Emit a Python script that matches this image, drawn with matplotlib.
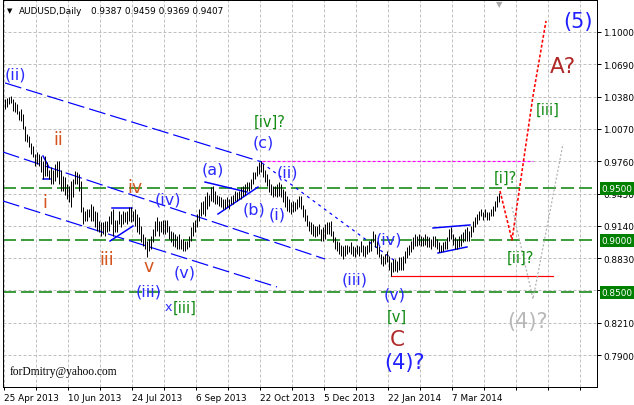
import matplotlib
matplotlib.use('Agg')
import matplotlib.pyplot as plt
import numpy as np

# ---------------- data ----------------
highs = [
    1.036, 1.037, 1.038, 1.039, 1.036, 1.033, 1.031, 1.024, 1.026, 1.021,
    1.010, 1.002, 1.000, 0.993, 0.991, 0.983, 0.985, 0.983, 0.981, 0.976,
    0.981, 0.975, 0.968, 0.970, 0.968, 0.973, 0.976, 0.976, 0.968, 0.962,
    0.961, 0.954, 0.952, 0.957, 0.959, 0.967, 0.966, 0.964, 0.957, 0.932,
    0.928, 0.930, 0.930, 0.935, 0.933, 0.928, 0.927, 0.919, 0.918, 0.918,
    0.919, 0.919, 0.923, 0.928, 0.930, 0.920, 0.920, 0.928, 0.925, 0.928,
    0.927, 0.928, 0.932, 0.932, 0.928, 0.930, 0.925, 0.922, 0.914, 0.906,
    0.903, 0.899, 0.901, 0.904, 0.911, 0.919, 0.922, 0.919, 0.919, 0.920,
    0.920, 0.920, 0.914, 0.909, 0.908, 0.906, 0.904, 0.906, 0.901, 0.901,
    0.899, 0.899, 0.904, 0.913, 0.918, 0.920, 0.925, 0.930, 0.937, 0.938,
    0.943, 0.946, 0.944, 0.951, 0.952, 0.947, 0.944, 0.943, 0.942, 0.940,
    0.940, 0.942, 0.940, 0.943, 0.944, 0.947, 0.946, 0.947, 0.951, 0.952,
    0.954, 0.956, 0.956, 0.959, 0.966, 0.966, 0.971, 0.975, 0.976, 0.973,
    0.968, 0.964, 0.959, 0.954, 0.952, 0.952, 0.954, 0.956, 0.954, 0.949,
    0.947, 0.943, 0.940, 0.937, 0.938, 0.937, 0.940, 0.943, 0.943, 0.934,
    0.930, 0.924, 0.919, 0.918, 0.916, 0.914, 0.914, 0.916, 0.911, 0.913,
    0.916, 0.918, 0.918, 0.919, 0.909, 0.903, 0.899, 0.898, 0.896, 0.895,
    0.896, 0.896, 0.895, 0.898, 0.895, 0.894, 0.896, 0.895, 0.899, 0.896,
    0.895, 0.896, 0.899, 0.901, 0.909, 0.906, 0.899, 0.895, 0.887, 0.885,
    0.887, 0.890, 0.885, 0.879, 0.882, 0.882, 0.880, 0.884, 0.884, 0.885,
    0.890, 0.894, 0.896, 0.899, 0.903, 0.906, 0.904, 0.906, 0.904, 0.903,
    0.906, 0.904, 0.903, 0.901, 0.904, 0.904, 0.901, 0.898, 0.896, 0.898,
    0.899, 0.903, 0.911, 0.913, 0.906, 0.903, 0.901, 0.904, 0.906, 0.908,
    0.911, 0.913, 0.909, 0.914, 0.919, 0.922, 0.925, 0.928, 0.930, 0.927,
    0.930, 0.927, 0.927, 0.930, 0.933, 0.938, 0.943, 0.9459,
]
lows = [
    1.026, 1.028, 1.031, 1.032, 1.024, 1.023, 1.021, 1.016, 1.015, 1.007,
    0.995, 0.994, 0.990, 0.983, 0.980, 0.971, 0.973, 0.971, 0.966, 0.959,
    0.962, 0.962, 0.959, 0.954, 0.954, 0.957, 0.961, 0.954, 0.947, 0.947,
    0.944, 0.940, 0.937, 0.932, 0.942, 0.954, 0.954, 0.947, 0.927, 0.916,
    0.919, 0.919, 0.922, 0.919, 0.919, 0.913, 0.909, 0.908, 0.904, 0.906,
    0.904, 0.908, 0.909, 0.916, 0.904, 0.908, 0.908, 0.916, 0.913, 0.916,
    0.918, 0.916, 0.919, 0.918, 0.919, 0.914, 0.908, 0.906, 0.898, 0.895,
    0.892, 0.884, 0.890, 0.892, 0.898, 0.904, 0.909, 0.904, 0.908, 0.906,
    0.906, 0.908, 0.901, 0.898, 0.895, 0.894, 0.892, 0.892, 0.892, 0.890,
    0.890, 0.892, 0.894, 0.899, 0.904, 0.908, 0.913, 0.919, 0.923, 0.925,
    0.923, 0.930, 0.933, 0.938, 0.937, 0.935, 0.935, 0.933, 0.932, 0.930,
    0.930, 0.932, 0.930, 0.935, 0.935, 0.938, 0.938, 0.940, 0.940, 0.943,
    0.944, 0.947, 0.947, 0.949, 0.954, 0.959, 0.962, 0.964, 0.966, 0.961,
    0.956, 0.952, 0.946, 0.944, 0.942, 0.943, 0.942, 0.943, 0.942, 0.937,
    0.932, 0.928, 0.927, 0.925, 0.927, 0.928, 0.930, 0.932, 0.930, 0.922,
    0.919, 0.914, 0.909, 0.906, 0.904, 0.903, 0.904, 0.906, 0.899, 0.899,
    0.901, 0.906, 0.906, 0.904, 0.898, 0.892, 0.890, 0.887, 0.885, 0.882,
    0.885, 0.887, 0.889, 0.887, 0.885, 0.884, 0.887, 0.885, 0.889, 0.885,
    0.884, 0.887, 0.889, 0.890, 0.898, 0.894, 0.887, 0.884, 0.877, 0.875,
    0.877, 0.879, 0.872, 0.866, 0.870, 0.871, 0.870, 0.872, 0.872, 0.872,
    0.878, 0.883, 0.886, 0.889, 0.892, 0.895, 0.895, 0.896, 0.895, 0.895,
    0.896, 0.894, 0.894, 0.892, 0.895, 0.894, 0.892, 0.889, 0.889, 0.890,
    0.892, 0.892, 0.899, 0.901, 0.896, 0.892, 0.892, 0.894, 0.895, 0.898,
    0.899, 0.899, 0.899, 0.903, 0.908, 0.913, 0.916, 0.920, 0.923, 0.920,
    0.922, 0.920, 0.920, 0.923, 0.923, 0.928, 0.932, 0.9369,
]
symbol = "AUDUSD,Daily"
last_ohlc = [0.9387, 0.9459, 0.9369, 0.9407]
date_labels = ["25 Apr 2013", "10 Jun 2013", "24 Jul 2013", "6 Sep 2013",
               "22 Oct 2013", "5 Dec 2013", "22 Jan 2014", "7 Mar 2014"]
price_ticks = [1.1000, 1.0690, 1.0380, 1.0070, 0.9760, 0.9450,
               0.9140, 0.8830, 0.8520, 0.8210, 0.7900]
level_lines = [0.9500, 0.9000, 0.8500]
watermark = "forDmitry@yahoo.com"

# trend / channel lines: ((bar, price), (bar, price))
channel_dashed = [((0, 1.0511), (128.5, 0.9752)),
                  ((-1, 0.9848), (160, 0.8821)),
                  ((-1, 0.9378), (136, 0.8553))]
channel_dotted = [((128.5, 0.9743), (195, 0.8802))]
solid_blue = [((100, 0.9560), (121, 0.9464)),
              ((106.5, 0.9253), (126.5, 0.9512)),
              ((53.5, 0.9311), (63.5, 0.9311)),
              ((52.5, 0.8994), (64, 0.9138)),
              ((19, 0.9589), (22.5, 0.9589)),
              ((19, 0.9810), (22, 0.9701)),
              ((214, 0.9119), (232.5, 0.9148)),
              ((216.5, 0.8879), (231, 0.8937))]
magenta_level = ((128.5, 264), 0.9760)
red_level = ((193, 274), 0.8660)
red_path_bars = [247.5, 253.5, 264, 270.5]
red_path_prices = [0.9474, 0.9004, 1.0386, 1.1106]
gray_path_bars = [253.5, 264, 279]
gray_path_prices = [0.9320, 0.8437, 0.9925]

# wave labels: (text, bar, price, style)
wave_labels = [
    ("(ii)", 5, 1.0597, "blue"), ("ii", 26.5, 0.9973, "orange"),
    ("i", 20, 0.9368, "orange"), ("iii", 51, 0.8821, "orange"),
    ("iv", 65, 0.9512, "orange"), ("v", 72, 0.8754, "orange"),
    ("(iii)", 72, 0.8514, "blue"), ("x", 81.5, 0.8361, "bluesmall"),
    ("[iii]", 90, 0.8361, "green"), ("(iv)", 81.5, 0.9397, "blue"),
    ("(v)", 90, 0.8697, "blue"), ("(a)", 104, 0.9685, "blue"),
    ("(b)", 124.5, 0.9301, "blue"), ("(c)", 129, 0.9944, "blue"),
    ("[iv]?", 132.5, 1.0146, "green"), ("(ii)", 141, 0.9656, "blue"),
    ("(i)", 136, 0.9253, "blue"), ("(iii)", 175, 0.8629, "blue"),
    ("(iv)", 192, 0.9013, "blue"), ("(v)", 195, 0.8485, "blue"),
    ("[v]", 196, 0.8274, "green"), ("C", 196, 0.8054, "red"),
    ("(4)?", 200, 0.7833, "bigblue"), ("[i]?", 250, 0.9608, "green"),
    ("[ii]?", 257.5, 0.8841, "green"), ("(4)?", 261.5, 0.8226, "gray"),
    ("[iii]", 271.5, 1.0261, "green"), ("A?", 279, 1.0674, "red"),
    ("(5)", 286.5, 1.1106, "bigblue"),
]

# ---------------- styles ----------------
styles = {
    "blue": dict(color="#2a2aff", fontsize=11.5),
    "bluesmall": dict(color="#2a2aff", fontsize=9),
    "bigblue": dict(color="#1f1fff", fontsize=15),
    "orange": dict(color="#d4541e", fontsize=12.5),
    "green": dict(color="#138a13", fontsize=10.5),
    "red": dict(color="#b02828", fontsize=15.5),
    "gray": dict(color="#b8b8b8", fontsize=15),
}

plt.rcParams['lines.scale_dashes'] = False
plt.rcParams['font.family'] = ['DejaVu Sans']
PX = 0.72  # one pixel in points at 100 dpi

W, H = 634, 406
fig = plt.figure(figsize=(W / 100, H / 100), dpi=100)
fig.patch.set_facecolor('white')
ax = fig.add_axes([3 / W, 18 / H, 594 / W, 387 / H])
ax.set_facecolor('white')
ax.set_xlim(-1, 296)
ax.set_ylim(0.75929, 1.13071)

# grid / ticks
grid_x = [-0.75 + 16 * k for k in range(19)]
ax.set_xticks(grid_x)
ax.set_xticklabels([date_labels[k // 2] if (k % 2 == 0 and k // 2 < len(date_labels)) else ""
                    for k in range(19)], ha='left', fontsize=6.4)
ax.yaxis.tick_right()
ax.set_yticks(price_ticks)
ax.set_yticklabels([f"{v:.4f}" for v in price_ticks], fontsize=6.4)
ax.tick_params(axis='both', direction='out', length=3, width=PX, pad=1.5, colors='black')
ax.tick_params(axis='x', length=2, pad=2)
ax.grid(True, color='#c0c0c0', lw=PX, linestyle=(0, (3 * PX, 2 * PX)))
ax.set_axisbelow(True)
for s in ax.spines.values():
    s.set_color('black')
    s.set_linewidth(PX)

# level lines with labels
for v in level_lines:
    ax.axhline(v, color='#008000', lw=1.5 * PX, linestyle=(0, (13 * PX, 5 * PX)), zorder=2)
    ax.annotate(f"{v:.4f}", xy=(1, v), xycoords=('axes fraction', 'data'),
                xytext=(3.5, 0), textcoords='offset points', ha='left', va='center',
                color='white', fontsize=6.4, annotation_clip=False, zorder=10,
                bbox=dict(boxstyle='square,pad=0.22', fc='#008000', ec='none'))

# channel lines
for (x0, y0), (x1, y1) in channel_dashed:
    ax.plot([x0, x1], [y0, y1], color='#0000ff', lw=1.2 * PX,
            linestyle=(0, (17 * PX, 5 * PX)), zorder=3)
for (x0, y0), (x1, y1) in channel_dotted:
    ax.plot([x0, x1], [y0, y1], color='#0000ff', lw=1.2 * PX,
            linestyle=(0, (3 * PX, 4 * PX)), zorder=3)
for (x0, y0), (x1, y1) in solid_blue:
    ax.plot([x0, x1], [y0, y1], color='#0000ff', lw=1.5 * PX, zorder=3)

ax.plot(list(magenta_level[0]), [magenta_level[1]] * 2, color='#ff00ff', lw=1.2 * PX,
        linestyle=(0, (3 * PX, 2 * PX)), zorder=3)
ax.plot(list(red_level[0]), [red_level[1]] * 2, color='#ff0000', lw=1.2 * PX, zorder=3)
ax.plot(red_path_bars, red_path_prices, color='#ff0000', lw=1.6 * PX,
        linestyle=(0, (3 * PX, 2 * PX)), zorder=3)
ax.plot(gray_path_bars, gray_path_prices, color='#b0b0b0', lw=1.2 * PX,
        linestyle=(0, (2 * PX, 2 * PX)), zorder=3)

# price bars
idx = np.arange(len(highs))
ax.vlines(idx, lows, highs, color='black', lw=1.0 * PX, zorder=4)

# wave labels
for text, b, p, st in wave_labels:
    ax.text(b, p, text, ha='center', va='center', zorder=6, **styles[st])

# header and watermark
fig.text(10 / W, 1 - 11 / H, "\u25BC", fontsize=5, ha='center', va='center', color='black')
fig.text(19 / W, 1 - 11 / H, symbol, fontsize=6.4, ha='left', va='center', color='black')
fig.text(91 / W, 1 - 11 / H, " ".join(f"{v:.4f}" for v in last_ohlc), fontsize=6.4,
         ha='left', va='center', color='black')
fig.text(499 / W, 1 - 5 / H, "\u25BC", fontsize=6, ha='center', va='center', color='#a8a8a8')
fig.text(10 / W, 1 - 372 / H, watermark, family='Liberation Serif', fontsize=8.3,
         ha='left', va='center', color='black')

fig.savefig('out.png', dpi=100, facecolor='white')
